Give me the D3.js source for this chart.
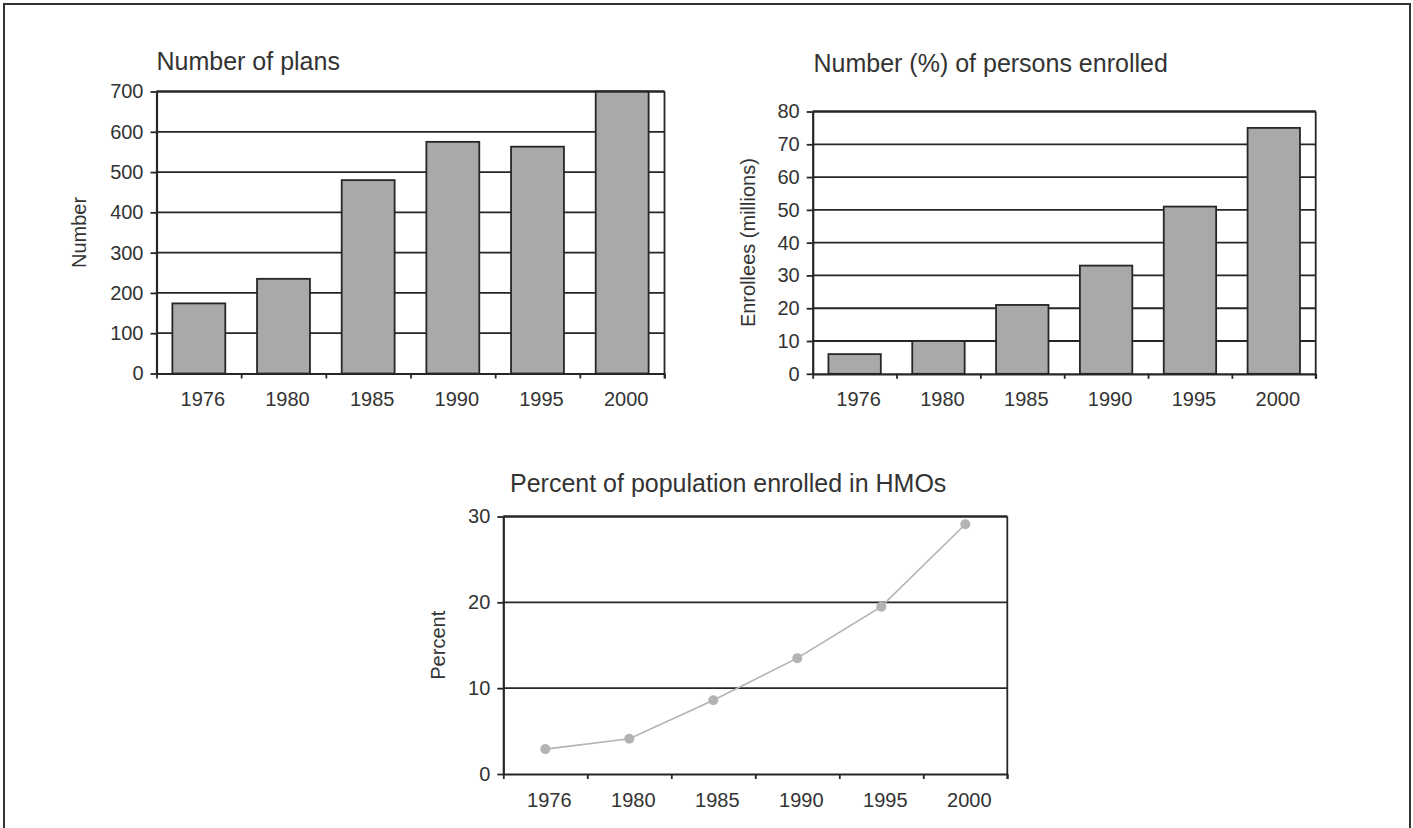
<!DOCTYPE html>
<html><head><meta charset="utf-8">
<script src="https://cdn.jsdelivr.net/npm/d3@7"></script>
<style>
body{margin:0;background:#fff;}
svg{display:block;}
text{font-family:"Liberation Sans",Arial,sans-serif;fill:#333;}
</style>
</head><body>
<svg id="c" width="1413" height="828"></svg>
<script>
const years = ["1976", "1980", "1985", "1990", "1995", "2000"];
const planCounts = [174, 235, 480, 575, 563, 700];
const enrolleesMillions = [6, 10, 21, 33, 51, 75];
const percentEnrolled = [2.9, 4.1, 8.6, 13.5, 19.5, 29.1];
const planTicks = [0, 100, 200, 300, 400, 500, 600, 700];
const enrollTicks = [0, 10, 20, 30, 40, 50, 60, 70, 80];
const percentTicks = [0, 10, 20, 30];
const panelTitles = ["Number of plans", "Number (%) of persons enrolled", "Percent of population enrolled in HMOs"];
const axisTitles = ["Number", "Enrollees (millions)", "Percent"];

const svg = d3.select("#c");
const INK = "#262626";

// outer frame
svg.append("path").attr("d", "M4,828V4H1410V828").attr("fill", "none")
  .attr("stroke", "#333").attr("stroke-width", 2);

function panel(cfg) {
  const g = svg.append("g");
  const x = d3.scaleBand().domain(years).range([cfg.left, cfg.right])
    .paddingInner(0.375).paddingOuter(0.1875);
  const xp = d3.scalePoint().domain(years).range([cfg.left, cfg.right]).padding(0.5);
  const xb = d3.scaleLinear().domain([0, years.length]).range([cfg.left, cfg.right]);
  const y = d3.scaleLinear().domain([0, cfg.max]).range([cfg.bottom, cfg.top]);

  // gridlines
  g.selectAll("line.grid").data(cfg.ticks.filter(t => t > 0)).join("line")
    .attr("class", "grid")
    .attr("x1", cfg.left).attr("x2", cfg.right)
    .attr("y1", d => y(d)).attr("y2", d => y(d))
    .attr("stroke", INK).attr("stroke-width", 1.8);

  // right border
  g.append("line").attr("x1", cfg.right).attr("x2", cfg.right)
    .attr("y1", y(cfg.max)).attr("y2", cfg.bottom + 5)
    .attr("stroke", INK).attr("stroke-width", 1.8);

  if (cfg.type === "bar") {
    g.selectAll("rect.bar").data(cfg.values).join("rect")
      .attr("class", "bar")
      .attr("x", (d, i) => x(years[i]))
      .attr("width", x.bandwidth())
      .attr("y", d => y(d))
      .attr("height", d => y(0) - y(d))
      .attr("fill", "#a9a9a9").attr("stroke", INK).attr("stroke-width", 1.8);
  } else {
    const line = d3.line().x((d, i) => xp(years[i])).y(d => y(d));
    g.append("path").datum(cfg.values).attr("d", line)
      .attr("fill", "none").attr("stroke", "#b3b3b3").attr("stroke-width", 1.6);
    g.selectAll("circle.pt").data(cfg.values).join("circle")
      .attr("class", "pt")
      .attr("cx", (d, i) => xp(years[i])).attr("cy", d => y(d)).attr("r", 5)
      .attr("fill", "#b3b3b3");
  }

  // left axis
  const ya = g.append("g").attr("transform", `translate(${cfg.left},0)`)
    .call(d3.axisLeft(y).tickValues(cfg.ticks).tickSize(6).tickPadding(7).tickSizeOuter(0));
  ya.select(".domain").attr("stroke", INK).attr("stroke-width", 2.2);
  ya.selectAll(".tick line").attr("stroke", INK).attr("stroke-width", 1.8);
  ya.selectAll("text").attr("font-size", 20).attr("font-family", null).attr("fill", "#333");

  // bottom axis: boundary ticks
  const xa = g.append("g").attr("transform", `translate(0,${cfg.bottom})`)
    .call(d3.axisBottom(xb).ticks(years.length).tickSize(5).tickFormat("").tickSizeOuter(0));
  xa.select(".domain").attr("stroke", INK).attr("stroke-width", 2.2);
  xa.selectAll(".tick line").attr("stroke", INK).attr("stroke-width", 1.8);

  // bottom axis labels
  const xl = g.append("g").attr("transform", `translate(4,${cfg.bottom})`)
    .call(d3.axisBottom(x).tickSize(0).tickPadding(cfg.labelPad));
  xl.select(".domain").remove();
  xl.selectAll("text").attr("font-size", 20).attr("font-family", null).attr("fill", "#333");

  // top border
  g.append("line").attr("x1", cfg.left).attr("x2", cfg.right)
    .attr("y1", y(cfg.max)).attr("y2", y(cfg.max))
    .attr("stroke", INK).attr("stroke-width", 1.8);

  // title
  g.append("text").attr("x", cfg.titleX).attr("y", cfg.titleY)
    .attr("font-size", 25).text(cfg.title);

  // axis title
  g.append("text")
    .attr("transform", `translate(${cfg.yLabelX},${(cfg.top + cfg.bottom) / 2}) rotate(-90)`)
    .attr("text-anchor", "middle").attr("dy", "0.35em")
    .attr("font-size", 20).text(cfg.yLabel);
}

panel({type: "bar", values: planCounts, ticks: planTicks, max: 700,
  left: 156.5, right: 664.5, top: 91.5, bottom: 373.5, labelPad: 18,
  title: panelTitles[0], titleX: 156.5, titleY: 70, yLabel: axisTitles[0], yLabelX: 79});

panel({type: "bar", values: enrolleesMillions, ticks: enrollTicks, max: 80,
  left: 812.7, right: 1315.7, top: 111.5, bottom: 373.8, labelPad: 18,
  title: panelTitles[1], titleX: 813.5, titleY: 72, yLabel: axisTitles[1], yLabelX: 748});

panel({type: "line", values: percentEnrolled, ticks: percentTicks, max: 30,
  left: 503.3, right: 1007.3, top: 516.5, bottom: 774, labelPad: 19,
  title: panelTitles[2], titleX: 510, titleY: 492, yLabel: axisTitles[2], yLabelX: 438});
</script>
</body></html>
